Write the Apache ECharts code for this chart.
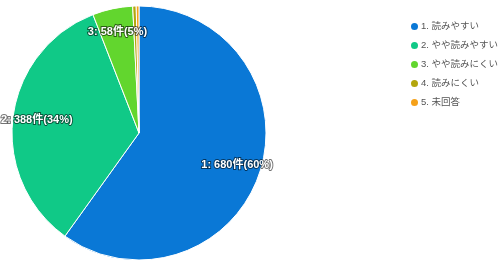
<!DOCTYPE html>
<html><head><meta charset="utf-8">
<script src="https://cdn.jsdelivr.net/npm/echarts@6/dist/echarts.min.js"></script>
<style>html,body{margin:0;padding:0;background:#fff}#c{width:500px;height:270px}</style>
</head><body><div id="c"></div>
<script>
const categories = ["1. 読みやすい", "2. やや読みやすい", "3. やや読みにくい", "4. 読みにくい", "5. 未回答"];
const values = [680, 388, 58, 5, 4];
const percentLabels = ["60%", "34%", "5%", "0%", "0%"];
const colors = ["#0a78d6", "#10c987", "#62d62e", "#b3a60e", "#f5a11a"];

const chart = echarts.init(document.getElementById('c'));
const mainData = categories.map((n, i) => ({ name: n, value: values[i], itemStyle: { color: colors[i] } }));
const labelData = categories.map((n, i) => ({
  name: n, value: values[i],
  label: { show: i < 3 }
}));
chart.setOption({
  animation: false,
  color: colors,
  legend: {
    orient: 'vertical', left: 404, top: 16, itemGap: 8,
    icon: 'circle', itemWidth: 9, itemHeight: 9,
    textStyle: { fontSize: 9.5, color: '#555', fontFamily: '"Liberation Sans", "Noto Sans CJK JP"', padding: [0, 0, 0, -3] },
    data: categories
  },
  series: [
    {
      type: 'pie', center: [139, 133], radius: 127, startAngle: 90, clockwise: true,
      data: mainData, label: { show: false }, labelLine: { show: false },
      itemStyle: { borderColor: '#fff', borderWidth: 1 }, silent: true
    },
    {
      type: 'pie', center: [139, 133], radius: [0, 200], startAngle: 90, clockwise: true,
      data: labelData, silent: true, z: 5,
      itemStyle: { color: 'rgba(0,0,0,0)', borderWidth: 0 },
      labelLine: { show: false },
      label: {
        position: 'inside', color: '#fff', fontSize: 11, fontWeight: 'bold',
        fontFamily: '"Liberation Sans", "Noto Sans CJK JP"',
        textBorderColor: 'rgba(0,0,0,0.55)', textBorderWidth: 2,
        formatter: p => (p.dataIndex + 1) + ': ' + values[p.dataIndex] + '件(' + percentLabels[p.dataIndex] + ')'
      }
    }
  ]
});
</script></body></html>
